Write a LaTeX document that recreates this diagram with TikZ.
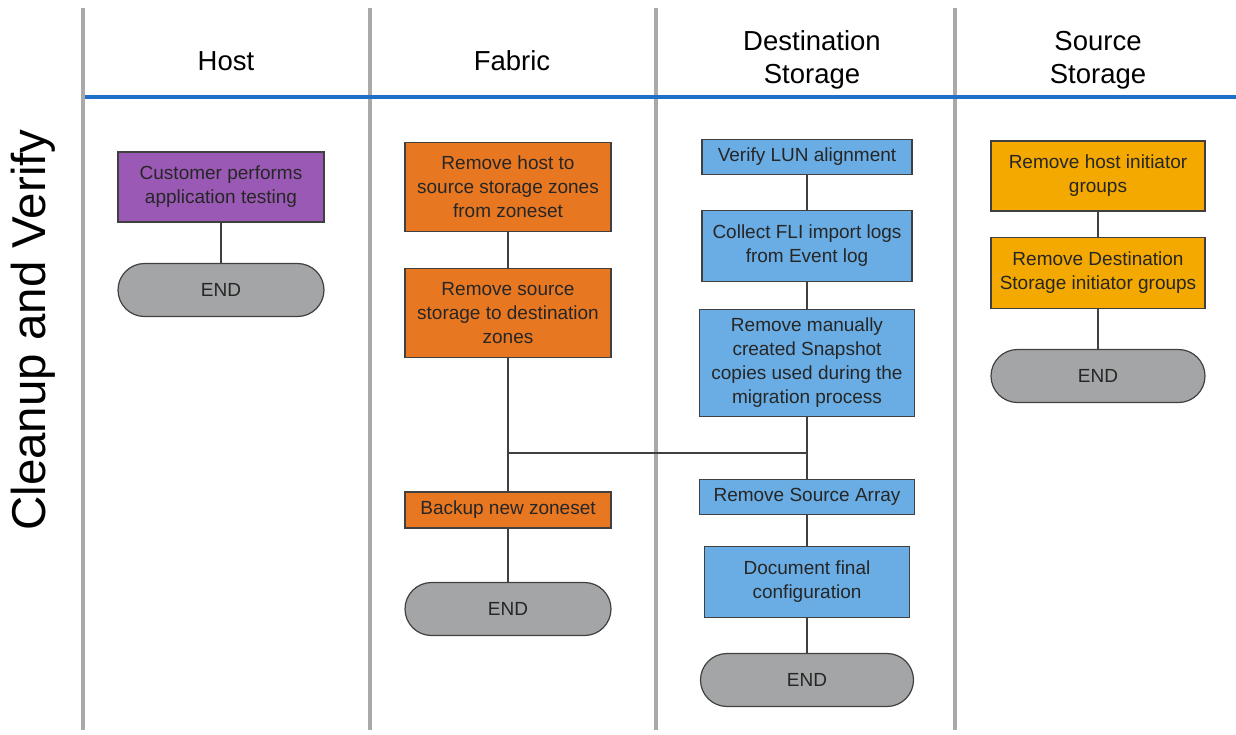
\documentclass[tikz,border=0pt]{standalone}
\usepackage{fontspec}
\setmainfont{Liberation Sans}
\usetikzlibrary{shapes,positioning,calc}

\definecolor{hostcol}{HTML}{9B59B6}
\definecolor{fabcol}{HTML}{E87722}
\definecolor{dstcol}{HTML}{6AADE4}
\definecolor{srccol}{HTML}{F4A900}
\definecolor{endcol}{HTML}{A3A5A6}
\definecolor{lanecol}{HTML}{A9A9A9}
\definecolor{headcol}{HTML}{1E6FC8}

\tikzset{
  stepbox/.style={draw=black!75, line width=1.2pt, align=center, inner sep=2pt,
    font=\fontsize{19}{24}\selectfont, text=black!85},
  endbox/.style={stepbox, rounded rectangle, fill=endcol, minimum width=210, minimum height=53},
  lane/.style={lanecol, line width=4pt},
  header/.style={align=center, font=\fontsize{27.5}{33}\selectfont},
  link/.style={draw=black!75, line width=1.2pt}
}

\begin{document}
\begin{tikzpicture}[x=1pt,y=-1pt]
\useasboundingbox (0,0) rectangle (1236,734);
% lanes
\foreach \x in {83,370,656,955}
  \draw[lane] (\x,8) -- (\x,730);
\draw[headcol, line width=4pt] (85,97) -- (1236,97);
\node[header] at (226,61) {Host};
\node[header] at (512,61) {Fabric};
\node[header] at (812,60) {Destination\\Storage};
\node[header] at (1098,60) {Source\\Storage};
\node[rotate=90, font=\fontsize{47.5}{50}\selectfont] (title) at (33,330) {Cleanup and Verify};
% host
\node[stepbox, fill=hostcol, minimum width=206, minimum height=70] (host1) at (221,187) {Customer performs\\application testing};
\node[endbox] (hostend) at (221,290) {END};
% fabric
\node[stepbox, fill=fabcol, minimum width=206, minimum height=89] (fab1) at (508,187) {Remove host to\\source storage zones\\from zoneset};
\node[stepbox, fill=fabcol, minimum width=206, minimum height=89] (fab2) at (508,313) {Remove source\\storage to destination\\zones};
\node[stepbox, fill=fabcol, minimum width=206, minimum height=36] (fab3) at (508,510) {Backup new zoneset};
\node[endbox] (fabend) at (508,609) {END};
% destination storage
\node[stepbox, fill=dstcol, minimum width=210, minimum height=35] (dst1) at (807,157) {Verify LUN alignment};
\node[stepbox, fill=dstcol, minimum width=210, minimum height=71] (dst2) at (807,246) {Collect FLI import logs\\from Event log};
\node[stepbox, fill=dstcol, minimum width=215, minimum height=107] (dst3) at (807,363) {Remove manually\\created Snapshot\\copies used during the\\migration process};
\node[stepbox, fill=dstcol, minimum width=215, minimum height=35] (dst4) at (807,497) {Remove Source Array};
\node[stepbox, fill=dstcol, minimum width=205, minimum height=71] (dst5) at (807,582) {Document final\\configuration};
\node[endbox, minimum width=217] (dstend) at (807,680) {END};
% source storage
\node[stepbox, fill=srccol, minimum width=214, minimum height=70] (src1) at (1098,176) {Remove host initiator\\groups};
\node[stepbox, fill=srccol, minimum width=214, minimum height=71] (src2) at (1098,273) {Remove Destination\\Storage initiator groups};
\node[endbox, minimum width=218] (srcend) at (1098,376) {END};
% connectors
\draw[link] (host1) -- (hostend);
\draw[link] (fab1) -- (fab2);
\draw[link] (fab2) -- (fab3);
\draw[link] (fab3) -- (fabend);
\draw[link] (dst1) -- (dst2);
\draw[link] (dst2) -- (dst3);
\draw[link] (dst3) -- (dst4);
\draw[link] (dst4) -- (dst5);
\draw[link] (dst5) -- (dstend);
\draw[link] (src1) -- (src2);
\draw[link] (src2) -- (srcend);
\coordinate (jl) at (fab2.south |- 0,453);
\coordinate (jr) at (dst3.south |- 0,453);
\draw[link] (jl) -- (jr);
\end{tikzpicture}
\end{document}
